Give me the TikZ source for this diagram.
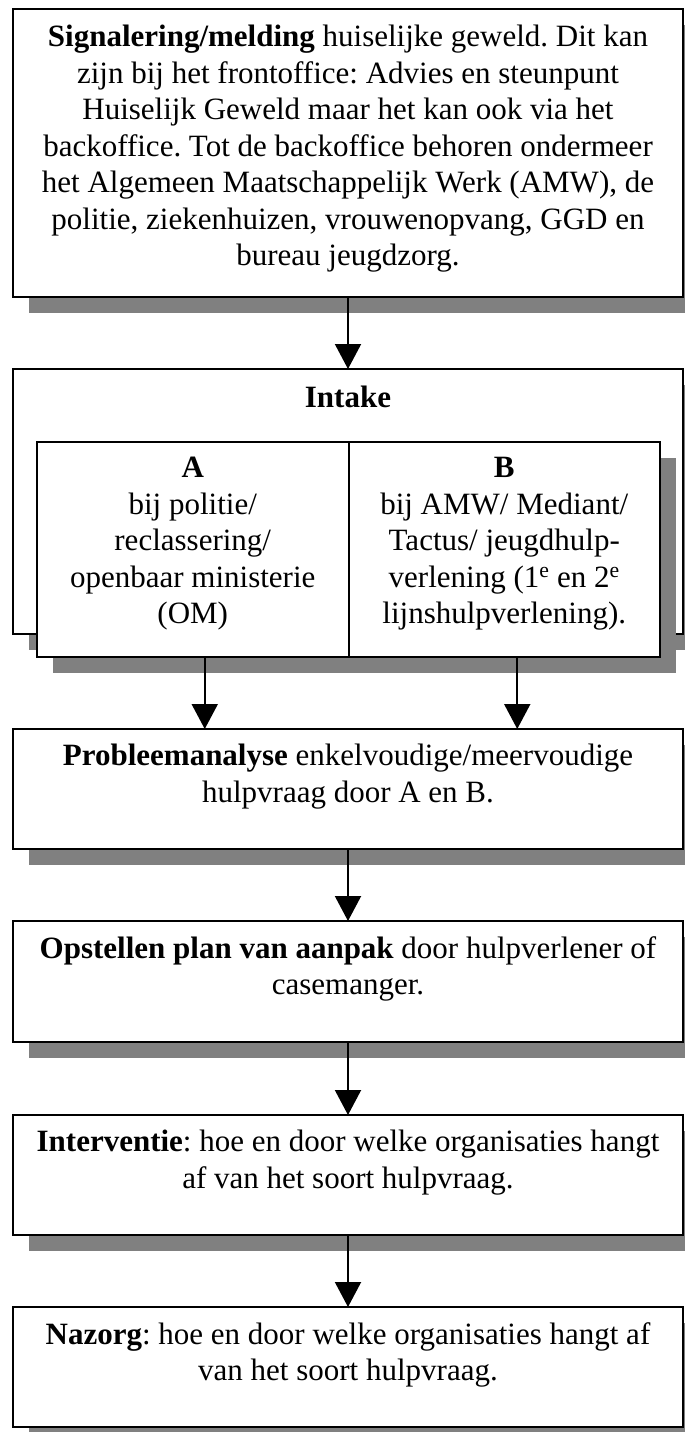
\documentclass[tikz,border=0pt]{standalone}
\usepackage{fontspec}
\setmainfont{Liberation Serif}
\usetikzlibrary{arrows.meta,positioning,shadows}
\frenchspacing

\definecolor{shadowgray}{RGB}{128,128,128}

\tikzset{
  flowbox/.style={draw, line width=2pt, fill=white, inner sep=0pt, outer sep=0pt,
    anchor=north west, minimum width=670pt,
    drop shadow={shadow xshift=16pt, shadow yshift=-16pt, fill=shadowgray, opacity=1}},
  cellbox/.style={flowbox, minimum width=311.5pt, minimum height=215pt},
  boxtext/.style={anchor=north, align=center, inner sep=0pt,
    font=\fontsize{31}{36.5}\selectfont,
    execute at begin node=\rule{0pt}{24pt}},
  flowarrow/.style={-{Triangle[width=26pt,length=25pt]}, line width=2pt},
}

\begin{document}
\begin{tikzpicture}[x=1pt,y=-1pt]
\useasboundingbox (0,0) rectangle (685,1432);

\node[flowbox, minimum height=288pt] (melding) at (13,9) {};
\node[boxtext] (meldingtext) at ([yshift=-16pt]melding.north)
  {\textbf{Signalering/melding} huiselijke geweld. Dit kan\\
   zijn bij het frontoffice: Advies en steunpunt\\
   Huiselijk Geweld maar het kan ook via het\\
   backoffice. Tot de backoffice behoren ondermeer\\
   het Algemeen Maatschappelijk Werk (AMW), de\\
   politie, ziekenhuizen, vrouwenopvang, GGD en\\
   bureau jeugdzorg.};

% intake with the two routes A and B
\node[flowbox, minimum height=265pt] (intake) at (13,369) {};
\node[boxtext] (intaketext) at ([yshift=-14pt]intake.north) {\textbf{Intake}};

\node[cellbox] (cellA) at (37,442) {};
\node[cellbox, right=0pt of cellA] (cellB) {};
\node[boxtext] (cellAtext) at ([yshift=-15pt]cellA.north)
  {\textbf{A}\\ bij politie/\\ reclassering/\\ openbaar ministerie\\ (OM)};
\node[boxtext] (cellBtext) at ([yshift=-15pt]cellB.north)
  {\textbf{B}\\ bij AMW/ Mediant/\\ Tactus/ jeugdhulp-\\
   verlening (1\textsuperscript{e} en 2\textsuperscript{e}\\ lijnshulpverlening).};

\node[flowbox, minimum height=120pt] (analyse) at (13,729) {};
\node[boxtext] (analysetext) at ([yshift=-15pt]analyse.north)
  {\textbf{Probleemanalyse} enkelvoudige/meervoudige\\ hulpvraag door A en B.};

\node[flowbox, minimum height=121pt] (plan) at (13,921) {};
\node[boxtext] (plantext) at ([yshift=-15pt]plan.north)
  {\textbf{Opstellen plan van aanpak} door hulpverlener of\\ casemanger.};

\node[flowbox, minimum height=120pt] (interventie) at (13,1115) {};
\node[boxtext] (interventietext) at ([yshift=-15pt]interventie.north)
  {\textbf{Interventie}: hoe en door welke organisaties hangt\\ af van het soort hulpvraag.};

\node[flowbox, minimum height=120pt] (nazorg) at (13,1307) {};
\node[boxtext] (nazorgtext) at ([yshift=-15pt]nazorg.north)
  {\textbf{Nazorg}: hoe en door welke organisaties hangt af\\ van het soort hulpvraag.};

% arrows
\draw[flowarrow] (melding.south) -- (intake.north);
\draw[flowarrow] ([xshift=12pt]cellA.south) -- ([xshift=12pt]cellA.south |- analyse.north);
\draw[flowarrow] ([xshift=13pt]cellB.south) -- ([xshift=13pt]cellB.south |- analyse.north);
\draw[flowarrow] (analyse.south) -- (plan.north);
\draw[flowarrow] (plan.south) -- (interventie.north);
\draw[flowarrow] (interventie.south) -- (nazorg.north);

\end{tikzpicture}
\end{document}
